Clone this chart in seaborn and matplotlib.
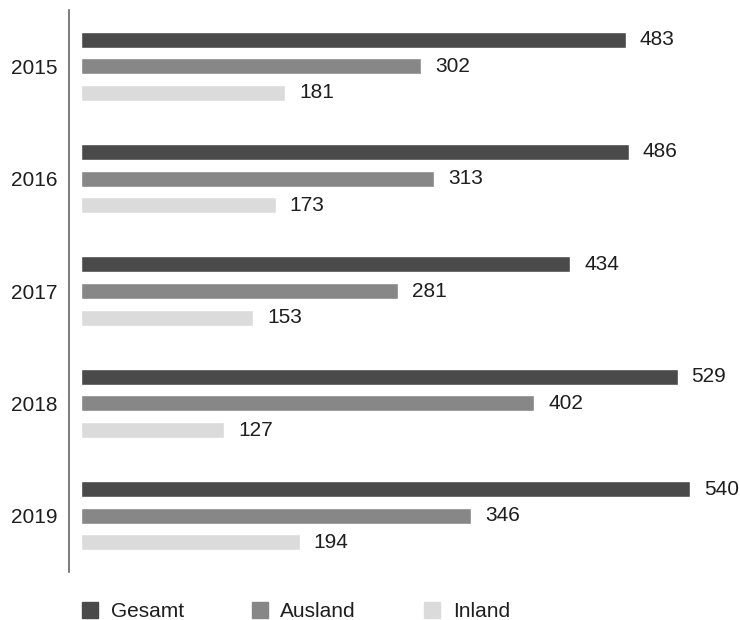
import matplotlib
matplotlib.use("Agg")
import matplotlib.pyplot as plt
import seaborn as sns
import pandas as pd
from matplotlib.lines import Line2D

years = ["2015", "2016", "2017", "2018", "2019"]
series = ["Gesamt", "Ausland", "Inland"]
gesamt = [483, 486, 434, 529, 540]
ausland = [302, 313, 281, 402, 346]
inland = [181, 173, 153, 127, 194]
colors = ["#4a4a4a", "#878787", "#dbdbdb"]

rows = []
for s, vals in zip(series, [gesamt, ausland, inland]):
    for y, v in zip(years, vals):
        rows.append({"Jahr": y, "Serie": s, "Wert": v})
df = pd.DataFrame(rows)

sns.set_theme(style="white")
plt.rcParams["font.family"] = ["Liberation Sans", "DejaVu Sans"]

fig = plt.figure(figsize=(7.4, 6.2), dpi=100)
ax = fig.add_axes([69 / 740, 1 - 572 / 620, 661 / 740, 562 / 620])

sns.barplot(data=df, y="Jahr", x="Wert", hue="Serie", order=years,
            hue_order=series, palette=colors, orient="h", width=0.71,
            gap=0.40, saturation=1, legend=False, ax=ax, errorbar=None)

for cont in ax.containers:
    ax.bar_label(cont, fmt="%d", padding=10, fontsize=15, color="#1e1e1e")

ax.set_xlim(-10.5, 575.5)
ax.set_ylim(4.5, -0.5)
ax.set_xlabel("")
ax.set_ylabel("")
ax.set_xticks([])
for side in ["top", "right", "bottom"]:
    ax.spines[side].set_visible(False)
ax.spines["left"].set_color("#666666")
ax.spines["left"].set_linewidth(1.2)
ax.tick_params(axis="y", length=0, pad=8.5, labelsize=15, labelcolor="#1e1e1e")

handles = [Line2D([], [], marker="s", linestyle="none", markersize=11,
                  markerfacecolor=c, markeredgecolor=c) for c in colors]
fig.legend(handles, series, loc="lower left", bbox_to_anchor=(67 / 740, -0.022),
           ncol=3, frameon=False, fontsize=15, handlelength=1.0,
           handletextpad=0.49, columnspacing=3.15, borderpad=0.1,
           labelcolor="#1e1e1e")

fig.savefig("out.png", dpi=100)
